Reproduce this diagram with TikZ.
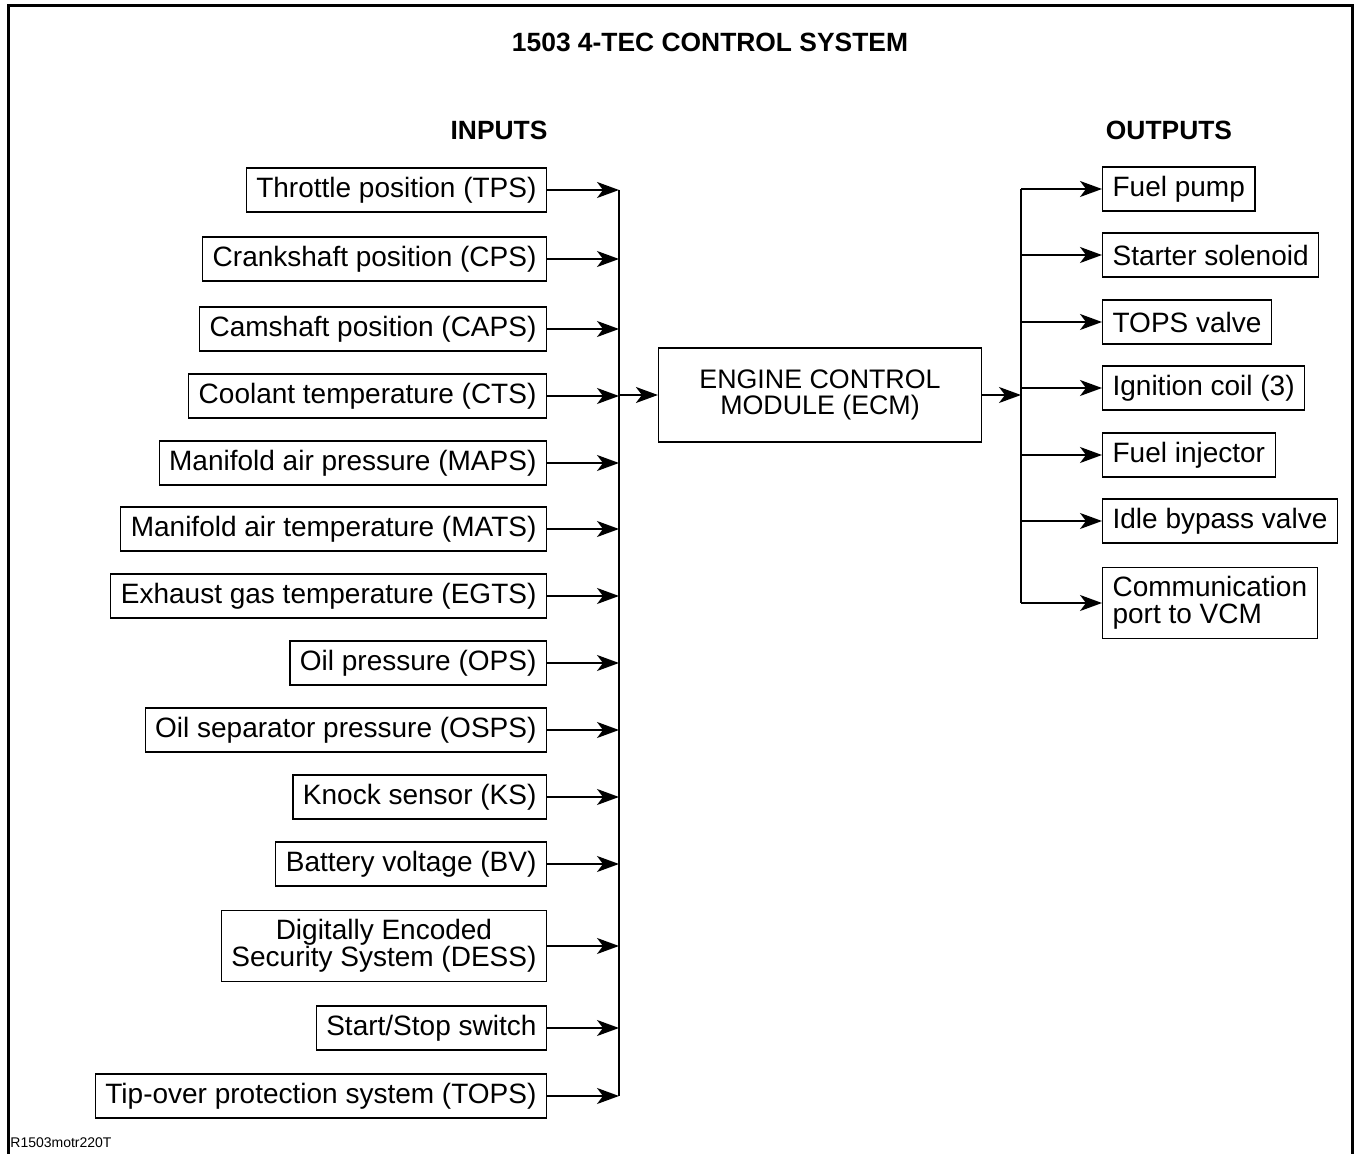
\documentclass[tikz,border=0pt]{standalone}
\usepackage{fontspec}
\setmainfont{Liberation Sans}
\usetikzlibrary{arrows.meta, positioning}

\begin{document}
\begin{tikzpicture}[
  x=0.5pt, y=-0.5pt,
  font=\fontsize{14}{13.5}\selectfont,
  inbox/.style={draw, line width=0.6pt, anchor=east, align=center,
                inner xsep=5pt, inner ysep=4.5pt, minimum height=22pt},
  outbox/.style={draw, line width=0.6pt, anchor=west, align=left,
                 inner xsep=5pt, inner ysep=4.5pt, minimum height=22pt},
  head/.style={font=\fontsize{13.2}{14}\selectfont\bfseries},
  arr/.style={-{Stealth[length=11pt, width=8pt, inset=3pt]}, line width=0.8pt},
  bus/.style={line width=0.8pt}
]
\useasboundingbox (0,0) rectangle (1355,1154);
\draw[line width=1.5pt] (8,1154) -- (8,6) -- (1352,6) -- (1352,1154);

\node[head] (title) at (710,42) {1503 4-TEC CONTROL SYSTEM};
\node[head] (inhead) at (499,130) {INPUTS};
\node[head] (outhead) at (1169,130) {OUTPUTS};

% inputs, right edges lined up
\node[inbox] (tps)  at (547,190)  {Throttle position (TPS)};
\node[inbox] (cps)  at (547,259)  {Crankshaft position (CPS)};
\node[inbox] (caps) at (547,329)  {Camshaft position (CAPS)};
\node[inbox] (cts)  at (547,396)  {Coolant temperature (CTS)};
\node[inbox] (maps) at (547,463)  {Manifold air pressure (MAPS)};
\node[inbox] (mats) at (547,529)  {Manifold air temperature (MATS)};
\node[inbox] (egts) at (547,596)  {Exhaust gas temperature (EGTS)};
\node[inbox] (ops)  at (547,663)  {Oil pressure (OPS)};
\node[inbox] (osps) at (547,730)  {Oil separator pressure (OSPS)};
\node[inbox] (ks)   at (547,797)  {Knock sensor (KS)};
\node[inbox] (bv)   at (547,864)  {Battery voltage (BV)};
\node[inbox] (dess) at (547,946)  {Digitally Encoded\\Security System (DESS)};
\node[inbox] (sss)  at (547,1028) {Start/Stop switch};
\node[inbox] (tops) at (547,1096) {Tip-over protection system (TOPS)};

\node[draw, line width=0.6pt, align=center, minimum width=161.5pt,
      minimum height=47pt, font=\fontsize{13.4}{13}\selectfont]
  (ecm) at (820,395) {ENGINE CONTROL\\MODULE (ECM)};

% outputs, left edges lined up
\node[outbox] (pump)   at (1102,189) {Fuel pump};
\node[outbox] (sol)    at (1102,255) {Starter solenoid};
\node[outbox] (tvalve) at (1102,322) {TOPS valve};
\node[outbox] (coil)   at (1102,388) {Ignition coil (3)};
\node[outbox] (inj)    at (1102,455) {Fuel injector};
\node[outbox] (idle)   at (1102,521) {Idle bypass valve};
\node[outbox] (vcm)    at (1102,603) {Communication\\port to VCM};

\coordinate (inbus) at (619,0);
\coordinate (outbus) at (1021,0);
\coordinate (footer) at (10,1143);
\node[anchor=west, inner sep=0pt, font=\fontsize{7}{8}\selectfont] (code) at (footer) {R1503motr220T};

\draw[bus] (tps.east -| inbus) -- (tops.east -| inbus);
\draw[arr] (tps.east) -- (tps.east -| inbus);
\draw[arr] (cps.east) -- (cps.east -| inbus);
\draw[arr] (caps.east) -- (caps.east -| inbus);
\draw[arr] (cts.east) -- (cts.east -| inbus);
\draw[arr] (maps.east) -- (maps.east -| inbus);
\draw[arr] (mats.east) -- (mats.east -| inbus);
\draw[arr] (egts.east) -- (egts.east -| inbus);
\draw[arr] (ops.east) -- (ops.east -| inbus);
\draw[arr] (osps.east) -- (osps.east -| inbus);
\draw[arr] (ks.east) -- (ks.east -| inbus);
\draw[arr] (bv.east) -- (bv.east -| inbus);
\draw[arr] (dess.east) -- (dess.east -| inbus);
\draw[arr] (sss.east) -- (sss.east -| inbus);
\draw[arr] (tops.east) -- (tops.east -| inbus);

\draw[arr] (ecm.west -| inbus) -- (ecm.west);
\draw[arr] (ecm.east) -- (ecm.east -| outbus);

\draw[bus] (pump.west -| outbus) -- (vcm.west -| outbus);
\draw[arr] (pump.west -| outbus) -- (pump.west);
\draw[arr] (sol.west -| outbus) -- (sol.west);
\draw[arr] (tvalve.west -| outbus) -- (tvalve.west);
\draw[arr] (coil.west -| outbus) -- (coil.west);
\draw[arr] (inj.west -| outbus) -- (inj.west);
\draw[arr] (idle.west -| outbus) -- (idle.west);
\draw[arr] (vcm.west -| outbus) -- (vcm.west);
\end{tikzpicture}
\end{document}
